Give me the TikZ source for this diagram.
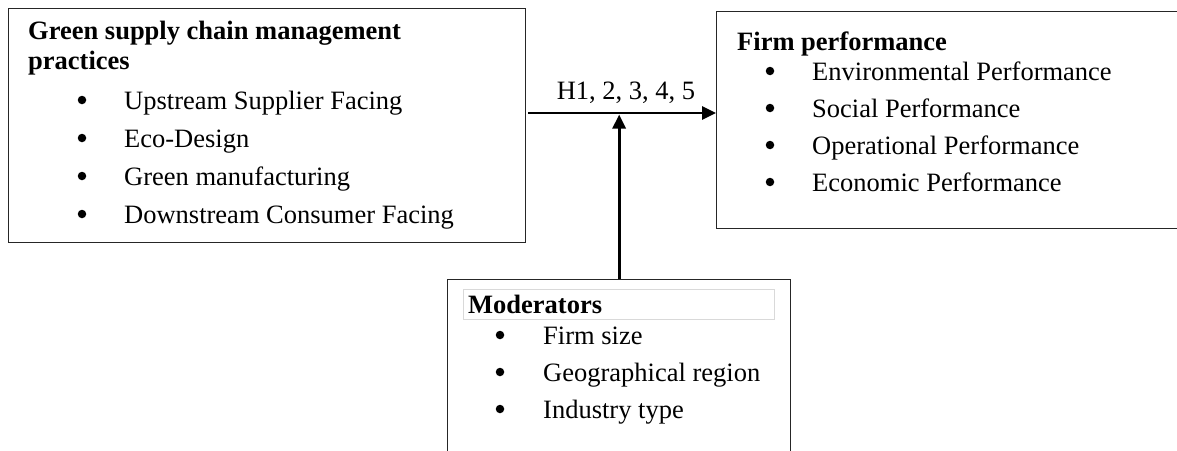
\documentclass[tikz,border=0pt]{standalone}
\usepackage{fontspec}
\setmainfont{Liberation Serif}
\usetikzlibrary{arrows.meta}
\begin{document}
\begin{tikzpicture}[x=1pt,y=-1pt,
  txt/.style={anchor=base west, inner sep=0pt, font=\fontsize{26.5}{31}\selectfont},
  hdr/.style={anchor=base west, inner sep=0pt, font=\fontsize{26.5}{31}\selectfont\bfseries},
  bul/.style={circle, fill=black, inner sep=0pt, minimum size=8.5pt},
  frame/.style={draw=black!85, line width=1.3pt, inner sep=0pt, anchor=north west},
  conn/.style={line width=2.8pt, -{Triangle[length=14pt,width=13pt]}}]
\clip (0,0) rectangle (1177,450);
\fill[white] (0,0) rectangle (1177,450);
% left box
\node[frame, minimum width=517pt, minimum height=234pt] (gscm) at (8,8) {};
\node[hdr] (g1) at (28,39) {Green supply chain management};
\node[hdr] (g2) at (28,69) {practices};
\foreach \y/\t [count=\i] in {109/Upstream Supplier Facing, 147/Eco-Design, 185/Green manufacturing, 223/Downstream Consumer Facing}{
  \node[bul] (gb\i) at (82,\y-9) {};
  \node[txt] (gt\i) at (124,\y) {\t};
}
% right box
\node[frame, minimum width=480pt, minimum height=217pt] (firm) at (716,11) {};
\node[hdr] (f0) at (737,50) {Firm performance};
\foreach \y/\t [count=\i] in {80/Environmental Performance, 117/Social Performance, 154/Operational Performance, 191/Economic Performance}{
  \node[bul] (fb\i) at (770,\y-9) {};
  \node[txt] (ft\i) at (812,\y) {\t};
}
% moderators
\node[frame, minimum width=343pt, minimum height=190pt] (mod) at (447,279) {};
\node[draw=black!15, line width=0.8pt, minimum width=311pt, minimum height=30pt, inner sep=0pt, anchor=north west] (modhead) at (463,289) {};
\node[hdr] (m0) at (468,313) {Moderators};
\foreach \y/\t [count=\i] in {344/Firm size, 381/Geographical region, 418/Industry type}{
  \node[bul] (mb\i) at (500,\y-9) {};
  \node[txt] (mt\i) at (543,\y) {\t};
}
% label and connectors
\node[txt, anchor=base] (h) at (626,99) {H1, 2, 3, 4, 5};
\coordinate (hs) at (528,113);
\coordinate (jn) at (619,114.5);
\draw[conn] (hs) -- (hs -| firm.west);
\draw[conn] (mod.north) -- (mod.north |- jn);
\end{tikzpicture}
\end{document}
